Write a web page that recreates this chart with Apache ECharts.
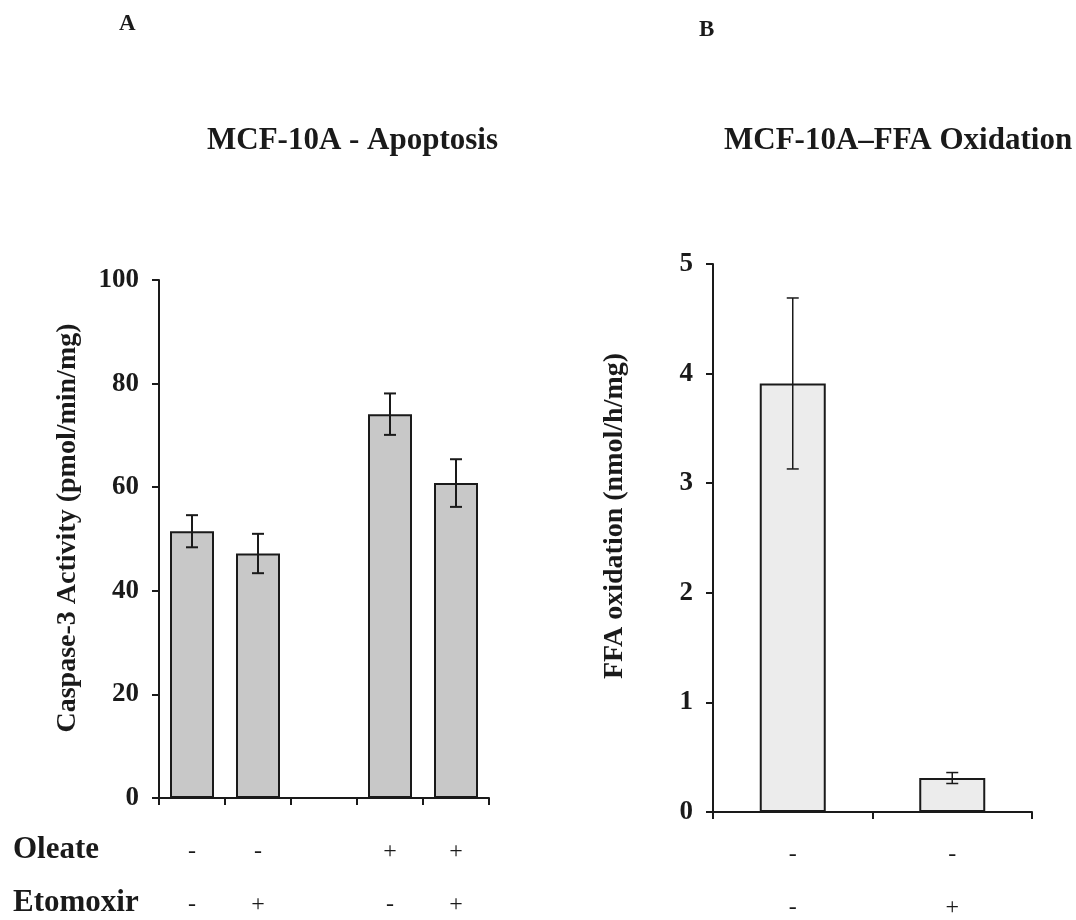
<!DOCTYPE html>
<html>
<head>
<meta charset="utf-8">
<script src="https://cdn.jsdelivr.net/npm/echarts@6/dist/echarts.min.js"></script>
<style>
  html, body { margin: 0; padding: 0; background: #fff; }
  #main { width: 1076px; height: 920px; }
</style>
</head>
<body>
<div id="main"></div>
<script>
// panel A: caspase-3 activity
const groupsA = ["g1", "g2", "gap", "g3", "g4"]
const oleateA = ["-", "-", "", "+", "+"]
const etomoxirA = ["-", "+", "", "-", "+"]
const caspase = [51.5, 47.2, null, 74.1, 60.8]
const caspaseErr = [3.1, 3.8, null, 4.0, 4.6]
const ticksA = [0, 20, 40, 60, 80, 100]

// panel B: FFA oxidation
const groupsB = ["ctrl", "eto"]
const oleateB = ["-", "-"]
const etomoxirB = ["-", "+"]
const ffa = [3.91, 0.31]
const ffaErr = [0.78, 0.05]
const ticksB = [0, 1, 2, 3, 4, 5]

const serif = "Liberation Serif"
const ink = "#1a1a1a"

function errData(vals, errs) {
  let out = []
  vals.forEach((v, i) => {
    if (v != null) out.push([i, v, errs[i]])
  })
  return out
}

function errRender(cap, lw) {
  return function (params, api) {
    const x = api.value(0)
    const y = api.value(1)
    const e = api.value(2)
    const top = api.coord([x, y + e])
    const bot = api.coord([x, y - e])
    const style = { stroke: ink, lineWidth: lw }
    return {
      type: "group",
      children: [
        { type: "line", shape: { x1: top[0], y1: top[1], x2: bot[0], y2: bot[1] }, style: style },
        { type: "line", shape: { x1: top[0] - cap, y1: top[1], x2: top[0] + cap, y2: top[1] }, style: style },
        { type: "line", shape: { x1: bot[0] - cap, y1: bot[1], x2: bot[0] + cap, y2: bot[1] }, style: style }
      ]
    }
  }
}

function signLabel(row1, row2, margin) {
  return {
    interval: 0,
    margin: margin,
    formatter: function (val, i) {
      return "{s|" + row1[i] + "}\n{s|" + row2[i] + "}"
    },
    rich: {
      s: { fontFamily: serif, fontSize: 24, color: ink, lineHeight: 53, align: "center" }
    }
  }
}

const axisLineStyle = { show: true, lineStyle: { color: ink, width: 2 } }
const yLabel = { fontFamily: serif, fontWeight: "bold", fontSize: 27, color: ink, margin: 20 }
const titleFont = { fontFamily: serif, fontWeight: "bold", fontSize: 31, color: ink }

let option = {
  animation: false,
  backgroundColor: "#fff",
  title: [
    { text: "A", left: 114, top: 8, textStyle: { fontFamily: serif, fontWeight: "bold", fontSize: 23, color: ink } },
    { text: "B", left: 694, top: 14, textStyle: { fontFamily: serif, fontWeight: "bold", fontSize: 23, color: ink } },
    { text: "MCF-10A - Apoptosis", left: 202, top: 120, textStyle: titleFont },
    { text: "MCF-10A\u2013FFA Oxidation", left: 719, top: 120, textStyle: titleFont }
  ],
  graphic: [
    { type: "text", left: 13, top: 834, style: { text: "Oleate", font: "bold 31px " + serif, fill: ink } },
    { type: "text", left: 13, top: 887, style: { text: "Etomoxir", font: "bold 31px " + serif, fill: ink } }
  ],
  grid: [
    { left: 159, top: 280, width: 330, height: 518 },
    { left: 713, top: 264, width: 319, height: 548 }
  ],
  xAxis: [
    {
      gridIndex: 0,
      type: "category",
      data: groupsA,
      boundaryGap: true,
      axisLine: axisLineStyle,
      axisTick: { show: true, interval: 0, length: 7, lineStyle: { color: ink, width: 2 } },
      axisLabel: signLabel(oleateA, etomoxirA, 27)
    },
    {
      gridIndex: 1,
      type: "category",
      data: groupsB,
      boundaryGap: true,
      axisLine: axisLineStyle,
      axisTick: { show: true, interval: 0, length: 7, lineStyle: { color: ink, width: 2 } },
      axisLabel: signLabel(oleateB, etomoxirB, 16)
    }
  ],
  yAxis: [
    {
      gridIndex: 0,
      type: "value",
      min: ticksA[0],
      max: ticksA[ticksA.length - 1],
      interval: ticksA[1] - ticksA[0],
      splitLine: { show: false },
      axisLine: axisLineStyle,
      axisTick: { show: true, length: 7, lineStyle: { color: ink, width: 2 } },
      axisLabel: yLabel,
      name: "Caspase-3 Activity (pmol/min/mg)",
      nameLocation: "middle",
      nameGap: 77,
      nameTextStyle: { fontFamily: serif, fontWeight: "bold", fontSize: 28, color: ink, padding: [0, 0, 0, 22] }
    },
    {
      gridIndex: 1,
      type: "value",
      min: ticksB[0],
      max: ticksB[ticksB.length - 1],
      interval: ticksB[1] - ticksB[0],
      splitLine: { show: false },
      axisLine: axisLineStyle,
      axisTick: { show: true, length: 7, lineStyle: { color: ink, width: 2 } },
      axisLabel: yLabel,
      name: "FFA oxidation (nmol/h/mg)",
      nameLocation: "middle",
      nameGap: 84,
      nameTextStyle: { fontFamily: serif, fontWeight: "bold", fontSize: 28, color: ink, padding: [0, 0, 0, 44] }
    }
  ],
  series: [
    {
      type: "bar",
      xAxisIndex: 0,
      yAxisIndex: 0,
      data: caspase,
      barWidth: 44,
      itemStyle: { color: "#c8c8c8", borderColor: ink, borderWidth: 2 }
    },
    {
      type: "custom",
      xAxisIndex: 0,
      yAxisIndex: 0,
      data: errData(caspase, caspaseErr),
      encode: { x: 0, y: 1 },
      renderItem: errRender(6, 2),
      z: 5
    },
    {
      type: "bar",
      xAxisIndex: 1,
      yAxisIndex: 1,
      data: ffa,
      barWidth: 66,
      itemStyle: { color: "#ececec", borderColor: ink, borderWidth: 2 }
    },
    {
      type: "custom",
      xAxisIndex: 1,
      yAxisIndex: 1,
      data: errData(ffa, ffaErr),
      encode: { x: 0, y: 1 },
      renderItem: errRender(6, 1.5),
      z: 5
    }
  ]
}

const myChart = echarts.init(document.getElementById("main"))
myChart.setOption(option)
</script>
</body>
</html>
